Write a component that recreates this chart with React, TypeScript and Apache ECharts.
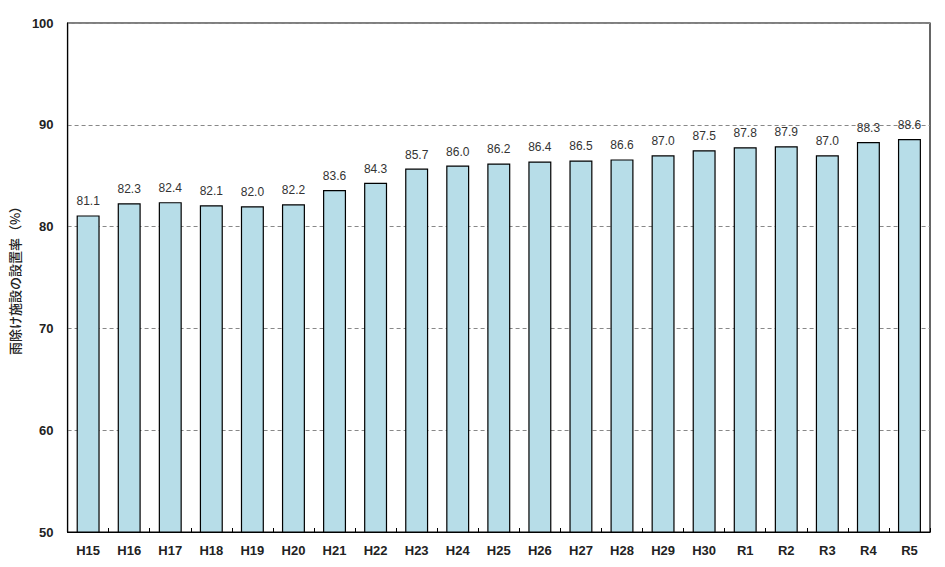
import React, { useEffect, useRef } from "react";
import * as echarts from "echarts";

const categories = ["H15","H16","H17","H18","H19","H20","H21","H22","H23","H24","H25","H26","H27","H28","H29","H30","R1","R2","R3","R4","R5"];
const values = [81.1,82.3,82.4,82.1,82.0,82.2,83.6,84.3,85.7,86.0,86.2,86.4,86.5,86.6,87.0,87.5,87.8,87.9,87.0,88.3,88.6];
const yAxisTitle = "雨除け施設の設置率（%）";

export default function App() {
  const ref = useRef<HTMLDivElement>(null);
  useEffect(() => {
    const chart = echarts.init(ref.current!, null, { renderer: "svg" });
    chart.setOption({
      animation: false,
      backgroundColor: "#ffffff",
      grid: { left: 62, right: 15, top: 23, bottom: 35, show: true, borderColor: "#000", borderWidth: 1.2, containLabel: false },
      xAxis: {
        type: "category",
        data: categories,
        axisLine: { lineStyle: { color: "#000", width: 1.2 } },
        axisTick: { show: true, inside: true, length: 4, lineStyle: { color: "#000" } },
        axisLabel: { color: "#222", fontSize: 13, fontWeight: "bold", fontFamily: "Liberation Sans, Arial, sans-serif", margin: 12 },
      },
      yAxis: {
        type: "value",
        min: 50,
        max: 100,
        interval: 10,
        name: yAxisTitle,
        nameLocation: "middle",
        nameGap: 45,
        nameRotate: 90,
        nameTextStyle: { color: "#222", fontSize: 13, fontWeight: 500, fontFamily: "Noto Sans CJK JP, sans-serif" },
        axisLine: { show: true, lineStyle: { color: "#000", width: 1.2 } },
        axisTick: { show: false },
        axisLabel: { color: "#222", fontSize: 13, fontWeight: "bold", fontFamily: "Liberation Sans, Arial, sans-serif", margin: 14 },
        splitLine: { show: true, lineStyle: { color: "#888", type: [4, 3], width: 1 } },
      },
      series: [
        {
          type: "bar",
          data: values,
          barWidth: 23,
          itemStyle: { color: "#b7dde8", borderColor: "#000", borderWidth: 1.2 },
          label: {
            show: true,
            position: "top",
            distance: 8,
            formatter: (p: any) => Number(p.value).toFixed(1),
            color: "#333",
            fontSize: 12,
            fontFamily: "Liberation Sans, Arial, sans-serif",
          },
        },
      ],
    });
    return () => chart.dispose();
  }, []);
  return <div ref={ref} style={{ position: "fixed", left: 0, top: 0, width: 945, height: 567 }} />;
}
